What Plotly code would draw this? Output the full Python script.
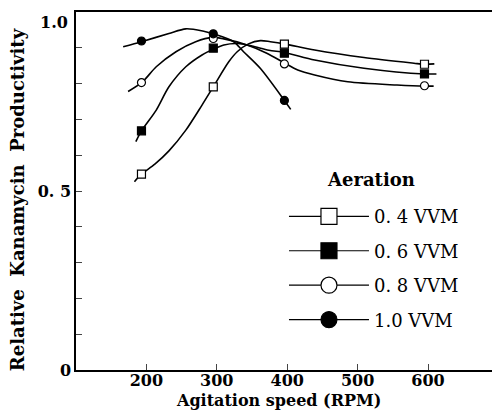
import plotly.graph_objects as go

# Data points (agitation speed, relative productivity)
rpm_pts = [193, 295, 396, 595]
vvm04 = [0.547, 0.791, 0.910, 0.854]
vvm06 = [0.668, 0.899, 0.885, 0.827]
vvm08 = [0.803, 0.926, 0.855, 0.794]
vvm10_x = [193, 295, 396]
vvm10 = [0.919, 0.939, 0.753]

# Hand-drawn smoothing curves
c04_x = [183, 193, 212, 232, 256, 279, 295, 317, 329, 345, 362, 376, 396, 439, 509, 580, 595, 609]
c04_y = [0.526, 0.547, 0.575, 0.612, 0.670, 0.740, 0.791, 0.861, 0.889, 0.911, 0.920, 0.917, 0.911, 0.894, 0.873, 0.857, 0.854, 0.855]
c06_x = [185, 193, 214, 232, 256, 279, 296, 310, 330, 350, 374, 396, 439, 509, 595, 612]
c06_y = [0.638, 0.668, 0.726, 0.791, 0.847, 0.880, 0.897, 0.908, 0.912, 0.905, 0.893, 0.887, 0.866, 0.843, 0.827, 0.827]
c08_x = [174, 194, 214, 242, 270, 294, 310, 343, 371, 396, 415, 439, 486, 556, 596, 608]
c08_y = [0.778, 0.804, 0.847, 0.889, 0.917, 0.929, 0.925, 0.908, 0.885, 0.858, 0.838, 0.824, 0.805, 0.796, 0.793, 0.793]
c10_x = [167, 193, 232, 256, 280, 295, 324, 338, 362, 396, 405]
c10_y = [0.903, 0.917, 0.940, 0.953, 0.947, 0.939, 0.917, 0.889, 0.842, 0.753, 0.728]

labels = ["0. 4 VVM", "0. 6 VVM", "0. 8 VVM", "1.0 VVM"]
symbols = ["square", "square", "circle", "circle"]
fills = ["white", "black", "white", "black"]

x_ticks = [200, 300, 400, 500, 600]
y_ticks = [0, 0.1, 0.2, 0.3, 0.4, 0.5, 0.6, 0.7, 0.8, 0.9, 1.0]
y_ticktext = ["0", "", "", "", "", "0. 5", "", "", "", "", ""]
y_top_label = "1.0"

FONT = "DejaVu Serif"

fig = go.Figure()

curves = [(c04_x, c04_y), (c06_x, c06_y), (c08_x, c08_y), (c10_x, c10_y)]
points = [(rpm_pts, vvm04), (rpm_pts, vvm06), (rpm_pts, vvm08), (vvm10_x, vvm10)]

for (cx, cy) in curves:
    fig.add_trace(go.Scatter(x=cx, y=cy, mode="lines",
                             line=dict(color="black", width=1.6, shape="spline", smoothing=0.8),
                             showlegend=False, hoverinfo="skip"))

for i, (px, py) in enumerate(points):
    fig.add_trace(go.Scatter(x=px, y=py, mode="markers",
                             marker=dict(symbol=symbols[i], size=8, color=fills[i],
                                         line=dict(color="black", width=1.2)),
                             showlegend=False))

# legend entries
for i in range(4):
    fig.add_trace(go.Scatter(x=[None], y=[None], mode="lines+markers", name=labels[i], legendgroup=str(i),
                             line=dict(color="black", width=1.2),
                             marker=dict(symbol=symbols[i], size=16, color=fills[i],
                                         line=dict(color="black", width=1.2))))

fig.update_layout(
    width=492, height=403,
    margin=dict(l=68, r=1, t=4, b=41),
    plot_bgcolor="white", paper_bgcolor="white",
    font=dict(family=FONT, color="black"),
    legend=dict(
        x=0.494, y=0.480, xanchor="left", yanchor="top",
        itemwidth=80, tracegroupgap=8,
        font=dict(family=FONT, size=18),
        bgcolor="rgba(0,0,0,0)",
    ),
    xaxis=dict(range=[100, 698], tickvals=x_ticks, ticks="inside", ticklen=6, tickwidth=1.2,
               tickfont=dict(family=FONT, size=16, weight="bold"), ticklabelstandoff=-5,
               showline=True, linecolor="black", linewidth=1.5, mirror=True, showgrid=False, zeroline=False),
    yaxis=dict(range=[0, 1.0], tickvals=y_ticks, ticktext=y_ticktext, ticks="inside", ticklen=6, tickwidth=1.2,
               tickfont=dict(family=FONT, size=16, weight="bold"),
               showline=True, linecolor="black", linewidth=1.5, mirror=True, showgrid=False, zeroline=False),
    showlegend=True,
)

fig.add_annotation(text="<b>" + y_top_label + "</b>", xref="paper", yref="paper",
                   x=-0.014, y=0.972, xanchor="right", yanchor="middle", showarrow=False,
                   font=dict(family=FONT, size=16))
fig.add_annotation(text="<b>Aeration</b>", xref="paper", yref="paper",
                   x=0.700, y=0.531, xanchor="center", yanchor="middle", showarrow=False,
                   font=dict(family=FONT, size=18))
fig.add_annotation(text="<b>Agitation speed (RPM)</b>", xref="paper", yref="paper",
                   x=0.482, y=-0.0852, xanchor="center", yanchor="middle", showarrow=False,
                   font=dict(family=FONT, size=16))
fig.add_annotation(text="<b>Relative  Kanamycin  Productivity</b>", xref="paper", yref="paper",
                   x=-0.137, y=0.475, xanchor="center", yanchor="middle", textangle=-90, showarrow=False,
                   font=dict(family=FONT, size=18))

fig.write_html("out.html")
